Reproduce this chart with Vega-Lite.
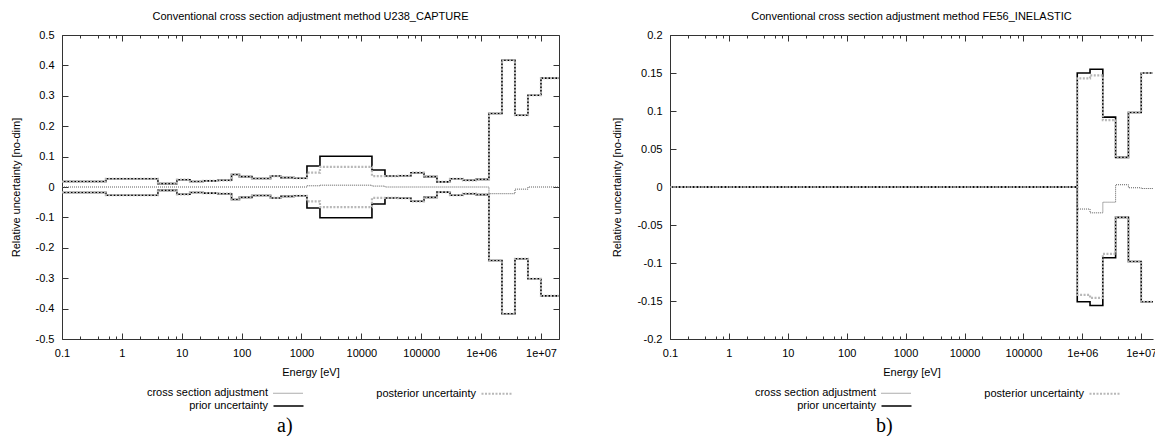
{
"$schema": "https://vega.github.io/schema/vega-lite/v6.json",
"padding": {"left": 10, "top": 11, "right": 0, "bottom": 0},
"background": "white",
"config": {
  "font": "Liberation Sans",
  "view": {"stroke": null},
  "axis": {"labelFont": "Liberation Sans", "labelFontSize": 11, "labelColor": "#000", "titleFont": "Liberation Sans", "titleFontSize": 11, "titleFontWeight": "normal", "titleColor": "#000", "grid": false, "domain": true, "domainColor": "#333", "domainWidth": 1, "tickColor": "#333", "tickWidth": 1, "labelFlush": false, "labelOverlap": false},
  "title": {"font": "Liberation Sans", "fontSize": 11, "fontWeight": "normal", "color": "#000"}
},
"datasets": {
"a": [
{"s":"pri","g":"u","e":0.1,"v":0.018},{"s":"pri","g":"u","e":0.54,"v":0.027},{"s":"pri","g":"u","e":4,"v":0.011},{"s":"pri","g":"u","e":8.315,"v":0.024},{"s":"pri","g":"u","e":13.71,"v":0.018},{"s":"pri","g":"u","e":22.6,"v":0.020},{"s":"pri","g":"u","e":40.17,"v":0.022},{"s":"pri","g":"u","e":67.9,"v":0.041},{"s":"pri","g":"u","e":91.66,"v":0.034},{"s":"pri","g":"u","e":148.6,"v":0.028},{"s":"pri","g":"u","e":304.3,"v":0.036},{"s":"pri","g":"u","e":454,"v":0.031},{"s":"pri","g":"u","e":748.5,"v":0.029},{"s":"pri","g":"u","e":1234,"v":0.069},{"s":"pri","g":"u","e":2035,"v":0.101},{"s":"pri","g":"u","e":15030,"v":0.056},{"s":"pri","g":"u","e":24790,"v":0.036},{"s":"pri","g":"u","e":40870,"v":0.037},{"s":"pri","g":"u","e":67380,"v":0.047},{"s":"pri","g":"u","e":111100,"v":0.034},{"s":"pri","g":"u","e":183200,"v":0.017},{"s":"pri","g":"u","e":302000,"v":0.027},{"s":"pri","g":"u","e":497900,"v":0.022},{"s":"pri","g":"u","e":820900,"v":0.025},{"s":"pri","g":"u","e":1353000,"v":0.242},{"s":"pri","g":"u","e":2231000,"v":0.417},{"s":"pri","g":"u","e":3679000,"v":0.236},{"s":"pri","g":"u","e":6065000,"v":0.302},{"s":"pri","g":"u","e":10000000,"v":0.358},{"s":"pri","g":"u","e":19640000,"v":0.358},
{"s":"pri","g":"l","e":0.1,"v":-0.018},{"s":"pri","g":"l","e":0.54,"v":-0.027},{"s":"pri","g":"l","e":4,"v":-0.011},{"s":"pri","g":"l","e":8.315,"v":-0.024},{"s":"pri","g":"l","e":13.71,"v":-0.018},{"s":"pri","g":"l","e":22.6,"v":-0.020},{"s":"pri","g":"l","e":40.17,"v":-0.022},{"s":"pri","g":"l","e":67.9,"v":-0.041},{"s":"pri","g":"l","e":91.66,"v":-0.034},{"s":"pri","g":"l","e":148.6,"v":-0.028},{"s":"pri","g":"l","e":304.3,"v":-0.036},{"s":"pri","g":"l","e":454,"v":-0.031},{"s":"pri","g":"l","e":748.5,"v":-0.029},{"s":"pri","g":"l","e":1234,"v":-0.069},{"s":"pri","g":"l","e":2035,"v":-0.101},{"s":"pri","g":"l","e":15030,"v":-0.056},{"s":"pri","g":"l","e":24790,"v":-0.036},{"s":"pri","g":"l","e":40870,"v":-0.037},{"s":"pri","g":"l","e":67380,"v":-0.047},{"s":"pri","g":"l","e":111100,"v":-0.034},{"s":"pri","g":"l","e":183200,"v":-0.017},{"s":"pri","g":"l","e":302000,"v":-0.027},{"s":"pri","g":"l","e":497900,"v":-0.022},{"s":"pri","g":"l","e":820900,"v":-0.025},{"s":"pri","g":"l","e":1353000,"v":-0.242},{"s":"pri","g":"l","e":2231000,"v":-0.417},{"s":"pri","g":"l","e":3679000,"v":-0.236},{"s":"pri","g":"l","e":6065000,"v":-0.302},{"s":"pri","g":"l","e":10000000,"v":-0.358},{"s":"pri","g":"l","e":19640000,"v":-0.358},
{"s":"pos","g":"u","e":0.1,"v":0.018},{"s":"pos","g":"u","e":0.54,"v":0.027},{"s":"pos","g":"u","e":4,"v":0.011},{"s":"pos","g":"u","e":8.315,"v":0.024},{"s":"pos","g":"u","e":13.71,"v":0.018},{"s":"pos","g":"u","e":22.6,"v":0.020},{"s":"pos","g":"u","e":40.17,"v":0.022},{"s":"pos","g":"u","e":67.9,"v":0.041},{"s":"pos","g":"u","e":91.66,"v":0.034},{"s":"pos","g":"u","e":148.6,"v":0.028},{"s":"pos","g":"u","e":304.3,"v":0.036},{"s":"pos","g":"u","e":454,"v":0.031},{"s":"pos","g":"u","e":748.5,"v":0.029},{"s":"pos","g":"u","e":1234,"v":0.047},{"s":"pos","g":"u","e":2035,"v":0.066},{"s":"pos","g":"u","e":15030,"v":0.036},{"s":"pos","g":"u","e":24790,"v":0.036},{"s":"pos","g":"u","e":40870,"v":0.037},{"s":"pos","g":"u","e":67380,"v":0.047},{"s":"pos","g":"u","e":111100,"v":0.034},{"s":"pos","g":"u","e":183200,"v":0.017},{"s":"pos","g":"u","e":302000,"v":0.027},{"s":"pos","g":"u","e":497900,"v":0.022},{"s":"pos","g":"u","e":820900,"v":0.025},{"s":"pos","g":"u","e":1353000,"v":0.242},{"s":"pos","g":"u","e":2231000,"v":0.417},{"s":"pos","g":"u","e":3679000,"v":0.236},{"s":"pos","g":"u","e":6065000,"v":0.302},{"s":"pos","g":"u","e":10000000,"v":0.358},{"s":"pos","g":"u","e":19640000,"v":0.358},
{"s":"pos","g":"l","e":0.1,"v":-0.018},{"s":"pos","g":"l","e":0.54,"v":-0.027},{"s":"pos","g":"l","e":4,"v":-0.011},{"s":"pos","g":"l","e":8.315,"v":-0.024},{"s":"pos","g":"l","e":13.71,"v":-0.018},{"s":"pos","g":"l","e":22.6,"v":-0.020},{"s":"pos","g":"l","e":40.17,"v":-0.022},{"s":"pos","g":"l","e":67.9,"v":-0.041},{"s":"pos","g":"l","e":91.66,"v":-0.034},{"s":"pos","g":"l","e":148.6,"v":-0.028},{"s":"pos","g":"l","e":304.3,"v":-0.036},{"s":"pos","g":"l","e":454,"v":-0.031},{"s":"pos","g":"l","e":748.5,"v":-0.029},{"s":"pos","g":"l","e":1234,"v":-0.047},{"s":"pos","g":"l","e":2035,"v":-0.066},{"s":"pos","g":"l","e":15030,"v":-0.036},{"s":"pos","g":"l","e":24790,"v":-0.036},{"s":"pos","g":"l","e":40870,"v":-0.037},{"s":"pos","g":"l","e":67380,"v":-0.047},{"s":"pos","g":"l","e":111100,"v":-0.034},{"s":"pos","g":"l","e":183200,"v":-0.017},{"s":"pos","g":"l","e":302000,"v":-0.027},{"s":"pos","g":"l","e":497900,"v":-0.022},{"s":"pos","g":"l","e":820900,"v":-0.025},{"s":"pos","g":"l","e":1353000,"v":-0.242},{"s":"pos","g":"l","e":2231000,"v":-0.417},{"s":"pos","g":"l","e":3679000,"v":-0.236},{"s":"pos","g":"l","e":6065000,"v":-0.302},{"s":"pos","g":"l","e":10000000,"v":-0.358},{"s":"pos","g":"l","e":19640000,"v":-0.358},
{"s":"adj","g":"u","e":0.1,"v":0},{"s":"adj","g":"u","e":0.54,"v":0},{"s":"adj","g":"u","e":4,"v":0},{"s":"adj","g":"u","e":8.315,"v":0},{"s":"adj","g":"u","e":13.71,"v":0},{"s":"adj","g":"u","e":22.6,"v":0},{"s":"adj","g":"u","e":40.17,"v":0},{"s":"adj","g":"u","e":67.9,"v":0},{"s":"adj","g":"u","e":91.66,"v":0},{"s":"adj","g":"u","e":148.6,"v":0},{"s":"adj","g":"u","e":304.3,"v":0},{"s":"adj","g":"u","e":454,"v":0},{"s":"adj","g":"u","e":748.5,"v":0},{"s":"adj","g":"u","e":1234,"v":0.004},{"s":"adj","g":"u","e":2035,"v":0.006},{"s":"adj","g":"u","e":15030,"v":0.003},{"s":"adj","g":"u","e":24790,"v":0},{"s":"adj","g":"u","e":40870,"v":0},{"s":"adj","g":"u","e":67380,"v":0},{"s":"adj","g":"u","e":111100,"v":0},{"s":"adj","g":"u","e":183200,"v":0},{"s":"adj","g":"u","e":302000,"v":0},{"s":"adj","g":"u","e":497900,"v":0},{"s":"adj","g":"u","e":820900,"v":0},{"s":"adj","g":"u","e":1353000,"v":-0.022},{"s":"adj","g":"u","e":2231000,"v":-0.022},{"s":"adj","g":"u","e":3679000,"v":-0.007},{"s":"adj","g":"u","e":6065000,"v":0},{"s":"adj","g":"u","e":10000000,"v":0},{"s":"adj","g":"u","e":19640000,"v":0}
],
"b": [
{"s":"pri","g":"u","e":0.1,"v":0},{"s":"pri","g":"u","e":820900,"v":0.150},{"s":"pri","g":"u","e":1353000,"v":0.155},{"s":"pri","g":"u","e":2231000,"v":0.092},{"s":"pri","g":"u","e":3679000,"v":0.039},{"s":"pri","g":"u","e":6065000,"v":0.098},{"s":"pri","g":"u","e":10000000,"v":0.150},{"s":"pri","g":"u","e":19640000,"v":0.150},
{"s":"pri","g":"l","e":0.1,"v":0},{"s":"pri","g":"l","e":820900,"v":-0.151},{"s":"pri","g":"l","e":1353000,"v":-0.156},{"s":"pri","g":"l","e":2231000,"v":-0.093},{"s":"pri","g":"l","e":3679000,"v":-0.040},{"s":"pri","g":"l","e":6065000,"v":-0.098},{"s":"pri","g":"l","e":10000000,"v":-0.151},{"s":"pri","g":"l","e":19640000,"v":-0.151},
{"s":"pos","g":"u","e":0.1,"v":0},{"s":"pos","g":"u","e":820900,"v":0.143},{"s":"pos","g":"u","e":1353000,"v":0.147},{"s":"pos","g":"u","e":2231000,"v":0.088},{"s":"pos","g":"u","e":3679000,"v":0.039},{"s":"pos","g":"u","e":6065000,"v":0.098},{"s":"pos","g":"u","e":10000000,"v":0.150},{"s":"pos","g":"u","e":19640000,"v":0.150},
{"s":"pos","g":"l","e":0.1,"v":0},{"s":"pos","g":"l","e":820900,"v":-0.142},{"s":"pos","g":"l","e":1353000,"v":-0.146},{"s":"pos","g":"l","e":2231000,"v":-0.088},{"s":"pos","g":"l","e":3679000,"v":-0.040},{"s":"pos","g":"l","e":6065000,"v":-0.098},{"s":"pos","g":"l","e":10000000,"v":-0.151},{"s":"pos","g":"l","e":19640000,"v":-0.151},
{"s":"adj","g":"u","e":0.1,"v":0},{"s":"adj","g":"u","e":820900,"v":-0.029},{"s":"adj","g":"u","e":1353000,"v":-0.034},{"s":"adj","g":"u","e":2231000,"v":-0.020},{"s":"adj","g":"u","e":3679000,"v":0.003},{"s":"adj","g":"u","e":6065000,"v":-0.001},{"s":"adj","g":"u","e":10000000,"v":-0.002},{"s":"adj","g":"u","e":19640000,"v":-0.002}
]
},
"spacing": 51,
"resolve": {"scale": {"color": "independent", "strokeDash": "independent", "strokeWidth": "independent"}, "legend": {"color": "independent", "strokeDash": "independent", "strokeWidth": "independent"}},
"hconcat": [
{
 "title": {"text": "a)", "orient": "bottom", "font": "Liberation Serif", "fontSize": 20, "offset": 5, "anchor": "middle"},
 "resolve": {"scale": {"color": "independent", "strokeDash": "independent", "strokeWidth": "independent"}},
 "vconcat": [
 {
  "width": 497, "height": 304,
  "title": {"text": "Conventional cross section adjustment method U238_CAPTURE", "offset": 7},
  "data": {"name": "a"},
  "resolve": {"axis": {"x": "independent", "y": "independent"}},
  "layer": [
   {
    "encoding": {
     "x": {"field": "e", "type": "quantitative", "scale": {"type": "log", "domain": [0.1, 20000000]},
       "axis": {"title": "Energy [eV]", "titlePadding": 5, "labelPadding": 14,
         "values": [0.1,0.2,0.4,0.6,0.8,1,2,4,6,8,10,20,40,60,80,100,200,400,600,800,1000,2000,4000,6000,8000,10000,20000,40000,60000,80000,100000,200000,400000,600000,800000,1000000,2000000,4000000,6000000,8000000,10000000],
         "tickSize": {"condition": {"test": "abs(log(datum.value)/LN10 - round(log(datum.value)/LN10)) < 0.01", "value": -6}, "value": -3},
         "labelExpr": "abs(log(datum.value)/LN10 - round(log(datum.value)/LN10)) > 0.01 ? '' : datum.value < 0.5 ? '0.1' : datum.value < 999999 ? format(datum.value, 'd') : '1e+0' + format(log(datum.value)/LN10, '.0f')"}},
     "y": {"field": "v", "type": "quantitative", "scale": {"domain": [-0.5, 0.5]},
       "axis": {"title": "Relative uncertainty [no-dim]", "titlePadding": 14, "labelPadding": 14, "tickSize": -6,
         "values": [-0.5,-0.4,-0.3,-0.2,-0.1,0,0.1,0.2,0.3,0.4,0.5],
         "labelExpr": "(datum.value < 0 ? '-' : '') + format(abs(datum.value), '.2~f')"}},
     "color": {"field": "s", "type": "nominal", "scale": {"domain": ["adj", "pri", "pos"], "range": ["#5c5c5c", "#000000", "#b8b8b8"]},
       "legend": {"orient": "none", "legendX": 210, "legendY": 352, "columns": 2, "title": null, "symbolType": "M-1,0H5", "symbolSize": 100, "labelAlign": "right", "labelOffset": -17, "columnPadding": 69, "rowPadding": 1, "labelFont": "Liberation Sans", "labelFontSize": 11, "labelColor": "#000", "labelLimit": 0, "labelExpr": "datum.label == 'adj' ? 'cross section adjustment' : datum.label == 'pri' ? 'prior uncertainty' : 'posterior uncertainty'"}},
     "strokeDash": {"field": "s", "type": "nominal", "scale": {"domain": ["adj", "pri", "pos"], "range": [[1, 1], [1, 0], [2, 1.5]]},
       "legend": {"orient": "none", "legendX": 210, "legendY": 352, "columns": 2, "title": null, "symbolType": "M-1,0H5", "symbolSize": 100, "labelAlign": "right", "labelOffset": -17, "columnPadding": 69, "rowPadding": 1, "labelFont": "Liberation Sans", "labelFontSize": 11, "labelColor": "#000", "labelLimit": 0, "labelExpr": "datum.label == 'adj' ? 'cross section adjustment' : datum.label == 'pri' ? 'prior uncertainty' : 'posterior uncertainty'"}},
     "strokeWidth": {"field": "s", "type": "nominal", "scale": {"type": "point", "domain": ["adj", "pri", "pos"], "range": [1, 2.2]},
       "legend": {"orient": "none", "legendX": 210, "legendY": 352, "columns": 2, "title": null, "symbolType": "M-1,0H5", "symbolSize": 100, "labelAlign": "right", "labelOffset": -17, "columnPadding": 69, "rowPadding": 1, "labelFont": "Liberation Sans", "labelFontSize": 11, "labelColor": "#000", "labelLimit": 0, "labelExpr": "datum.label == 'adj' ? 'cross section adjustment' : datum.label == 'pri' ? 'prior uncertainty' : 'posterior uncertainty'"}},
     "detail": {"field": "g"}
    },
    "layer": [
     {"transform": [{"filter": "datum.s == 'pri'"}], "mark": {"type": "line", "interpolate": "step-after", "clip": true}},
     {"transform": [{"filter": "datum.s == 'pos'"}], "mark": {"type": "line", "interpolate": "step-after", "clip": true}},
     {"transform": [{"filter": "datum.s == 'adj'"}], "mark": {"type": "line", "interpolate": "step-after", "clip": true}}
    ]
   },
   {
    "mark": {"type": "point", "opacity": 0, "size": 0, "clip": true},
    "encoding": {
     "x": {"field": "e", "type": "quantitative", "scale": {"type": "log", "domain": [0.1, 20000000]},
       "axis": {"orient": "top", "title": null, "labels": false,
         "values": [0.1,0.2,0.4,0.6,0.8,1,2,4,6,8,10,20,40,60,80,100,200,400,600,800,1000,2000,4000,6000,8000,10000,20000,40000,60000,80000,100000,200000,400000,600000,800000,1000000,2000000,4000000,6000000,8000000,10000000],
         "tickSize": {"condition": {"test": "abs(log(datum.value)/LN10 - round(log(datum.value)/LN10)) < 0.01", "value": -6}, "value": -3}}},
     "y": {"field": "v", "type": "quantitative", "scale": {"domain": [-0.5, 0.5]},
       "axis": {"orient": "right", "title": null, "labels": false, "tickSize": -6, "values": [-0.5,-0.4,-0.3,-0.2,-0.1,0,0.1,0.2,0.3,0.4,0.5]}}
    }
   }
  ]
 }
 ]
},
{
 "title": {"text": "b)", "orient": "bottom", "font": "Liberation Serif", "fontSize": 20, "offset": 5, "anchor": "middle"},
 "resolve": {"scale": {"color": "independent", "strokeDash": "independent", "strokeWidth": "independent"}},
 "vconcat": [
 {
  "width": 483, "height": 304,
  "title": {"text": "Conventional cross section adjustment method FE56_INELASTIC", "offset": 7},
  "data": {"name": "b"},
  "resolve": {"axis": {"x": "independent", "y": "independent"}},
  "layer": [
   {
    "encoding": {
     "x": {"field": "e", "type": "quantitative", "scale": {"type": "log", "domain": [0.1, 15860000]},
       "axis": {"title": "Energy [eV]", "titlePadding": 5, "labelPadding": 14,
         "values": [0.1,0.2,0.4,0.6,0.8,1,2,4,6,8,10,20,40,60,80,100,200,400,600,800,1000,2000,4000,6000,8000,10000,20000,40000,60000,80000,100000,200000,400000,600000,800000,1000000,2000000,4000000,6000000,8000000,10000000],
         "tickSize": {"condition": {"test": "abs(log(datum.value)/LN10 - round(log(datum.value)/LN10)) < 0.01", "value": -6}, "value": -3},
         "labelExpr": "abs(log(datum.value)/LN10 - round(log(datum.value)/LN10)) > 0.01 ? '' : datum.value < 0.5 ? '0.1' : datum.value < 999999 ? format(datum.value, 'd') : '1e+0' + format(log(datum.value)/LN10, '.0f')"}},
     "y": {"field": "v", "type": "quantitative", "scale": {"domain": [-0.2, 0.2]},
       "axis": {"title": "Relative uncertainty [no-dim]", "titlePadding": 14, "labelPadding": 14, "tickSize": -6,
         "values": [-0.2,-0.15,-0.1,-0.05,0,0.05,0.1,0.15,0.2],
         "labelExpr": "(datum.value < 0 ? '-' : '') + format(abs(datum.value), '.2~f')"}},
     "color": {"field": "s", "type": "nominal", "scale": {"domain": ["adj", "pri", "pos"], "range": ["#5c5c5c", "#000000", "#b8b8b8"]},
       "legend": {"orient": "none", "legendX": 210, "legendY": 352, "columns": 2, "title": null, "symbolType": "M-1,0H5", "symbolSize": 100, "labelAlign": "right", "labelOffset": -17, "columnPadding": 69, "rowPadding": 1, "labelFont": "Liberation Sans", "labelFontSize": 11, "labelColor": "#000", "labelLimit": 0, "labelExpr": "datum.label == 'adj' ? 'cross section adjustment' : datum.label == 'pri' ? 'prior uncertainty' : 'posterior uncertainty'"}},
     "strokeDash": {"field": "s", "type": "nominal", "scale": {"domain": ["adj", "pri", "pos"], "range": [[1, 1], [1, 0], [2, 1.5]]},
       "legend": {"orient": "none", "legendX": 210, "legendY": 352, "columns": 2, "title": null, "symbolType": "M-1,0H5", "symbolSize": 100, "labelAlign": "right", "labelOffset": -17, "columnPadding": 69, "rowPadding": 1, "labelFont": "Liberation Sans", "labelFontSize": 11, "labelColor": "#000", "labelLimit": 0, "labelExpr": "datum.label == 'adj' ? 'cross section adjustment' : datum.label == 'pri' ? 'prior uncertainty' : 'posterior uncertainty'"}},
     "strokeWidth": {"field": "s", "type": "nominal", "scale": {"type": "point", "domain": ["adj", "pri", "pos"], "range": [1, 2.2]},
       "legend": {"orient": "none", "legendX": 210, "legendY": 352, "columns": 2, "title": null, "symbolType": "M-1,0H5", "symbolSize": 100, "labelAlign": "right", "labelOffset": -17, "columnPadding": 69, "rowPadding": 1, "labelFont": "Liberation Sans", "labelFontSize": 11, "labelColor": "#000", "labelLimit": 0, "labelExpr": "datum.label == 'adj' ? 'cross section adjustment' : datum.label == 'pri' ? 'prior uncertainty' : 'posterior uncertainty'"}},
     "detail": {"field": "g"}
    },
    "layer": [
     {"transform": [{"filter": "datum.s == 'pri'"}], "mark": {"type": "line", "interpolate": "step-after", "clip": true}},
     {"transform": [{"filter": "datum.s == 'pos'"}], "mark": {"type": "line", "interpolate": "step-after", "clip": true}},
     {"transform": [{"filter": "datum.s == 'adj'"}], "mark": {"type": "line", "interpolate": "step-after", "clip": true}}
    ]
   },
   {
    "mark": {"type": "point", "opacity": 0, "size": 0, "clip": true},
    "encoding": {
     "x": {"field": "e", "type": "quantitative", "scale": {"type": "log", "domain": [0.1, 15860000]},
       "axis": {"orient": "top", "title": null, "labels": false,
         "values": [0.1,0.2,0.4,0.6,0.8,1,2,4,6,8,10,20,40,60,80,100,200,400,600,800,1000,2000,4000,6000,8000,10000,20000,40000,60000,80000,100000,200000,400000,600000,800000,1000000,2000000,4000000,6000000,8000000,10000000],
         "tickSize": {"condition": {"test": "abs(log(datum.value)/LN10 - round(log(datum.value)/LN10)) < 0.01", "value": -6}, "value": -3}}},
     "y": {"field": "v", "type": "quantitative", "scale": {"domain": [-0.2, 0.2]}, "axis": null}
    }
   }
  ]
 }
 ]
}
]
}
